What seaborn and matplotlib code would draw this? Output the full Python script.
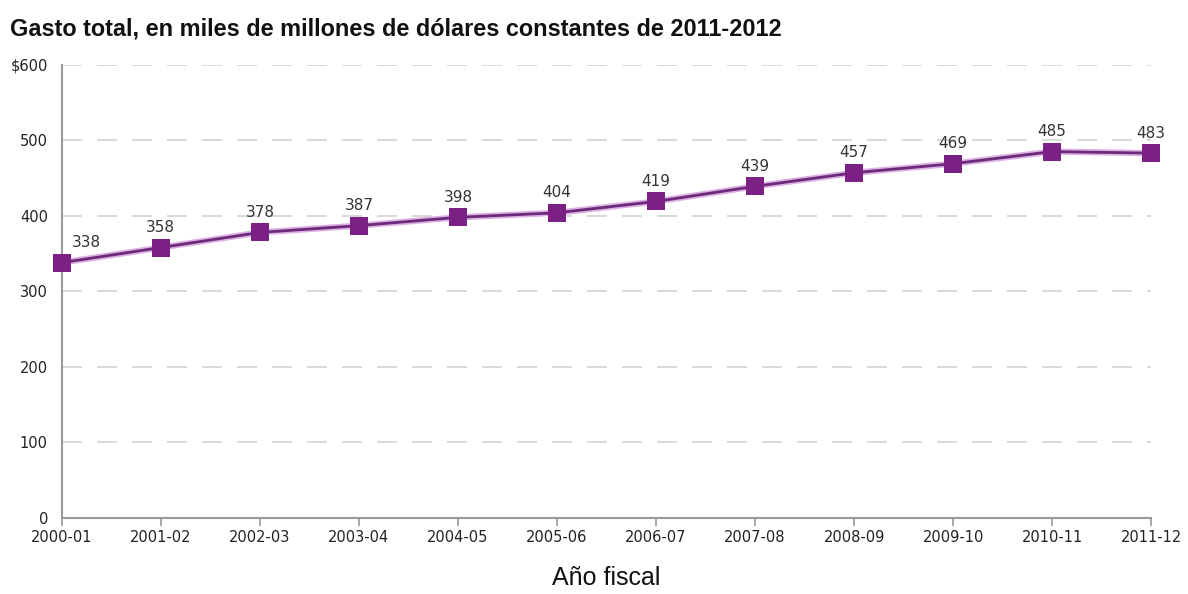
import matplotlib
matplotlib.use("Agg")
import matplotlib.pyplot as plt
import matplotlib.patheffects as pe
import pandas as pd
import seaborn as sns

years = ["2000-01", "2001-02", "2002-03", "2003-04", "2004-05", "2005-06",
         "2006-07", "2007-08", "2008-09", "2009-10", "2010-11", "2011-12"]
spending = [338, 358, 378, 387, 398, 404, 419, 439, 457, 469, 485, 483]
y_ticks = [0, 100, 200, 300, 400, 500, 600]
y_tick_labels = ["0", "100", "200", "300", "400", "500", "$600"]

title = "Gasto total, en miles de millones de dólares constantes de 2011-2012"
x_label = "Año fiscal"

df = pd.DataFrame({"idx": range(len(years)), "year": years, "value": spending})

sns.set_theme(style="white")
plt.rcParams["font.family"] = ["Liberation Sans", "DejaVu Sans"]

fig = plt.figure(figsize=(11.88, 5.94), dpi=100)
ax = fig.add_axes([0.052, 0.128, 0.917, 0.763])

purple = "#7b2185"
# connecting line with a soft lilac glow
sns.lineplot(data=df, x="idx", y="value", ax=ax, color="#6e2a7a", linewidth=2.0,
             path_effects=[pe.Stroke(linewidth=4.5, foreground="#dcb0e4"), pe.Normal()])
# square markers on top
sns.scatterplot(data=df, x="idx", y="value", ax=ax, color=purple, marker="s",
                s=150, linewidth=0, zorder=5, clip_on=False)

for i, v in enumerate(spending):
    dx = 18 if i == 0 else 0
    ax.annotate(str(v), (i, v), xytext=(dx, 9), textcoords="offset points",
                ha="center", va="bottom", fontsize=11, color="#333333",
                family=["DejaVu Sans"])

ax.set_xlim(0, len(years) - 1)
ax.set_ylim(0, 600)
ax.set_xticks(range(len(years)))
ax.set_xticklabels(years, fontsize=10.5, color="#222222", family=["DejaVu Sans"])
ax.set_yticks(y_ticks)
ax.set_yticklabels(y_tick_labels, fontsize=10.5, color="#222222", family=["DejaVu Sans"])

ax.yaxis.grid(True, linestyle=(0, (12, 9)), color="#d2d2d2", linewidth=1.2)
ax.xaxis.grid(False)
ax.set_axisbelow(True)

for s in ["top", "right"]:
    ax.spines[s].set_visible(False)
for s in ["left", "bottom"]:
    ax.spines[s].set_color("#9a9a9a")
    ax.spines[s].set_linewidth(1.5)

ax.tick_params(axis="x", which="both", bottom=True, length=6, width=1.2,
               color="#9a9a9a", pad=3)
ax.tick_params(axis="y", which="both", left=False, length=0, pad=10)

ax.set_xlabel(x_label, fontsize=18, color="#111111", labelpad=15)
ax.set_ylabel("")

fig.text(0.008, 0.952, title, fontsize=16.9, fontweight="bold", color="#111111",
         ha="left", va="center")

fig.savefig("out.png", dpi=100)
